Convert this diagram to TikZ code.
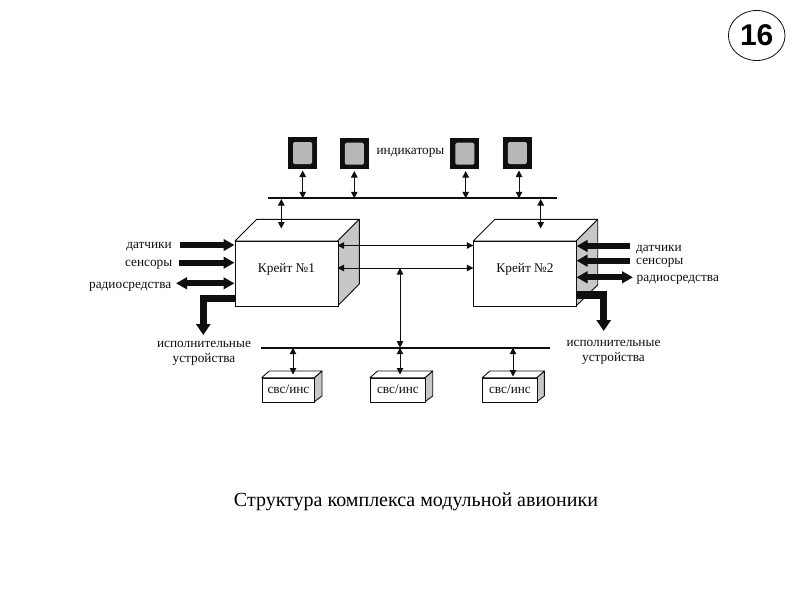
\documentclass[tikz,border=0pt]{standalone}
\usepackage{fontspec}
\setmainfont{Liberation Serif}
\newfontfamily\numfont{Liberation Sans}
\usetikzlibrary{arrows.meta,shapes.geometric,calc}
\definecolor{ink}{gray}{0.06}
\definecolor{shade}{gray}{0.78}
\tikzset{
  x=1pt,y=-1pt,
  lab/.style={font=\fontsize{13.3}{15}\selectfont,text=ink,inner sep=0pt,align=center},
  front/.style={draw=ink,line width=.9pt,fill=white,inner sep=0pt,anchor=north west,minimum width=#1},
  face/.style={draw=ink,line width=.9pt,fill=white,line join=round},
  side/.style={draw=ink,line width=.9pt,fill=shade,line join=round},
  bus/.style={draw=ink,line width=2pt},
  thin2/.style={draw=ink,line width=1pt,{Triangle[length=6.5pt,width=6.5pt]}-{Triangle[length=6.5pt,width=6.5pt]}},
  thick1/.style={draw=ink,line width=6pt,-{Triangle[length=11pt,width=11.5pt]}},
  thick2/.style={draw=ink,line width=6pt,{Triangle[length=11pt,width=11.5pt]}-{Triangle[length=11pt,width=11.5pt]}},
  elbow/.style={draw=ink,line width=7.5pt,-{Triangle[length=11pt,width=14pt]}},
  screenout/.style={fill=ink,inner sep=0pt,minimum width=29pt,minimum height=31.5pt},
  screenin/.style={fill=shade!92!black,rounded corners=1.5pt,inner sep=0pt,minimum width=19pt,minimum height=22pt},
}
\begin{document}
\begin{tikzpicture}
\useasboundingbox (0,0) rectangle (800,600);
\fill[white] (0,0) rectangle (800,600);

% page number
\node[draw=ink,line width=.8pt,ellipse,inner sep=0pt,minimum width=56.6pt,minimum height=50pt,font=\numfont\bfseries\fontsize{30}{30}\selectfont,text=black] (num) at (756.7,35.5) {16};

% buses
\coordinate (busTopL) at (268,198.3);
\coordinate (busTopR) at (557,198.3);
\draw[bus] (busTopL) -- (busTopR);
\coordinate (busBotL) at (261,347.7);
\coordinate (busBotR) at (550,347.7);
\draw[bus] (busBotL) -- (busBotR);

% indicators
\node[screenout] (ind1) at (302.5,153) {};
\node[screenin] (scr1) at (ind1.center) {};
\node[screenout] (ind2) at (354.3,153.7) {};
\node[screenin] (scr2) at (ind2.center) {};
\node[screenout] (ind3) at (464.8,153.7) {};
\node[screenin] (scr3) at (ind3.center) {};
\node[screenout] (ind4) at (517.3,153) {};
\node[screenin] (scr4) at (ind4.center) {};
\node[lab] (indlab) at (410.5,152.5) {индикаторы};

\coordinate (t1) at (302.7,198.3);
\coordinate (t2) at (354.3,198.3);
\coordinate (t3) at (465.7,198.3);
\coordinate (t4) at (519,198.3);
\coordinate (a1) at (302.7,170.5);
\coordinate (a2) at (354.3,171);
\coordinate (a3) at (465.7,171);
\coordinate (a4) at (519,170.5);
\draw[thin2] (a1) -- (t1);
\draw[thin2] (a2) -- (t2);
\draw[thin2] (a3) -- (t3);
\draw[thin2] (a4) -- (t4);

% crate 1
\draw[side] (337.5,241) -- (359.3,219.3) -- (359.3,284) -- (337.5,306) -- cycle;
\draw[face] (235,241) -- (256.7,219.3) -- (359.3,219.3) -- (337.5,241) -- cycle;
\node[front=102.5pt,minimum height=65pt] (c1) at (235,241) {};
\node[lab] (c1lab) at (286.5,269.5) {Крейт №1};

% crate 2
\draw[side] (576,241) -- (597.7,219.3) -- (597.7,285) -- (576,306) -- cycle;
\draw[face] (473.3,241) -- (495,219.3) -- (597.7,219.3) -- (576,241) -- cycle;
\node[front=102.7pt,minimum height=65pt] (c2) at (473.3,241) {};
\node[lab] (c2lab) at (525,269) {Крейт №2};

% bus to crates
\coordinate (tc1a) at (281.3,199);
\coordinate (tc1b) at (281.3,228.5);
\coordinate (tc2a) at (540.7,199);
\coordinate (tc2b) at (540.7,228.5);
\draw[thin2] (tc1a) -- (tc1b);
\draw[thin2] (tc2a) -- (tc2b);

% crate to crate
\coordinate (cc1) at (337.5,245.5);
\coordinate (cc1b) at (473.3,245.5);
\coordinate (cc2) at (337.5,268);
\coordinate (cc2b) at (473.3,268);
\draw[thin2] (cc1) -- (cc1b);
\draw[thin2] (cc2) -- (cc2b);
\coordinate (mid) at (400,268);
\coordinate (midb) at (400,347.7);
\draw[thin2] (mid) -- (midb);

% left thick arrows
\node[lab,anchor=east] (l1) at (172,247) {датчики};
\node[lab,anchor=east] (l2) at (172.5,265) {сенсоры};
\node[lab,anchor=east] (l3) at (171.5,286.5) {радиосредства};
\node[lab] (l4) at (204,353) {исполнительные\\устройства};
\coordinate (la1) at (180,245);
\coordinate (la1e) at (234.5,245);
\coordinate (la2) at (179,262.7);
\coordinate (la2e) at (234.5,262.7);
\coordinate (la3) at (176,283.3);
\coordinate (la3e) at (234.5,283.3);
\coordinate (le) at (235,298.3);
\coordinate (lec) at (203.3,298.3);
\coordinate (led) at (203.3,335);
\draw[thick1] (la1) -- (la1e);
\draw[thick1] (la2) -- (la2e);
\draw[thick2] (la3) -- (la3e);
\draw[elbow] (le) -- (lec) -- (led);

% right thick arrows
\node[lab,anchor=west] (r1) at (636,249.5) {датчики};
\node[lab,anchor=west] (r2) at (636,262.5) {сенсоры};
\node[lab,anchor=west] (r3) at (636.5,280) {радиосредства};
\node[lab] (r4) at (613.5,352) {исполнительные\\устройства};
\coordinate (ra1) at (630,246);
\coordinate (ra1e) at (576.5,246);
\coordinate (ra2) at (630,260.7);
\coordinate (ra2e) at (576.5,260.7);
\coordinate (ra3) at (633,277.3);
\coordinate (ra3e) at (576.5,277.3);
\coordinate (re) at (576,295);
\coordinate (rec) at (603.7,295);
\coordinate (red) at (603.7,331);
\draw[thick1] (ra1) -- (ra1e);
\draw[thick1] (ra2) -- (ra2e);
\draw[thick2] (ra3) -- (ra3e);
\draw[elbow] (re) -- (rec) -- (red);

% lower modules
\foreach \n/\xa/\xb/\ax/\tip in {1/261.7/314.3/293/374.5,2/370/425/400/374.5,3/482.3/536.7/513/376.5}{
  \draw[side] (\xb,377.7) -- (\xb+7.7,371) -- (\xb+7.7,396) -- (\xb,401.7) -- cycle;
  \draw[face] (\xa,377.7) -- (\xa+7.5,371) -- (\xb+7.7,371) -- (\xb,377.7) -- cycle;
  \pgfmathsetlengthmacro{\modw}{\xb-\xa}
  \node[front=\modw,minimum height=24pt] (m\n) at (\xa,377.7) {};
  \node[lab] (ml\n) at ($(m\n.center)+(0,-1)$) {свс/инс};
  \coordinate (mb\n) at (\ax,347.7);
  \coordinate (mt\n) at (\ax,\tip);
  \draw[thin2] (mb\n) -- (mt\n);
}

% caption
\node[font=\fontsize{20}{24}\selectfont,text=black,inner sep=0pt] (cap) at (416,501.5) {Структура комплекса модульной авионики};
\end{tikzpicture}
\end{document}
